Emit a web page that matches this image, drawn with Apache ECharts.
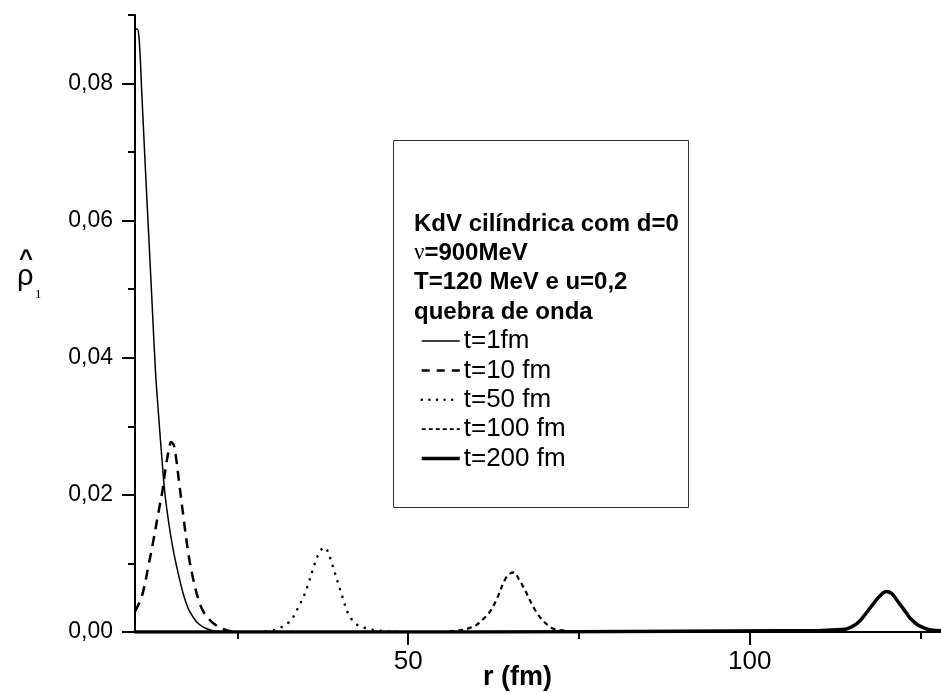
<!DOCTYPE html>
<html>
<head>
<meta charset="utf-8">
<script src="https://cdn.jsdelivr.net/npm/echarts@6/dist/echarts.min.js"></script>
<style>html,body{margin:0;padding:0;background:#fff;}#c{width:941px;height:693px;}</style>
</head>
<body>
<div id="c"></div>
<script>
// ---- data: [r (fm), rho1] ----
const t1 = [[10,0.0878],[10.3,0.0880],[10.6,0.0866],[11,0.0785],[11.5,0.068],[12,0.058],[12.5,0.048],[13,0.038],[13.5,0.031],[14,0.0245],[14.4,0.020],[15,0.0155],[15.5,0.0125],[16,0.0100],[16.5,0.0078],[17,0.0058],[17.5,0.0042],[18,0.0030],[19,0.0015],[20,0.0007],[21,0.0003],[22,0.0001],[24,0],[40,0],[128,0]];
const t10 = [[10,0.0030],[11,0.0052],[12,0.0098],[12.7,0.0134],[13.5,0.0178],[14,0.0205],[14.5,0.0240],[15,0.0268],[15.3,0.0277],[15.7,0.0272],[16,0.0255],[16.5,0.0215],[17,0.0175],[17.8,0.0115],[18.5,0.0078],[19.3,0.0047],[20,0.0030],[21,0.0017],[22,0.0009],[23,0.0004],[24,0.0001],[25,0]];
const t50 = [[28,0],[30,0.0002],[31,0.0005],[32,0.0010],[32.6,0.0015],[33.3,0.0024],[33.8,0.0034],[34.7,0.0052],[35.3,0.0068],[36,0.0090],[36.8,0.0112],[37.7,0.01235],[38.2,0.0118],[38.7,0.0104],[39.3,0.0085],[39.9,0.0066],[40.5,0.0047],[41.2,0.0027],[42,0.0015],[42.8,0.0009],[44,0.0005],[45,0.0003],[47,0.0001],[50,0]];
const t100 = [[56,0.0001],[58,0.0003],[59,0.0006],[59.8,0.0009],[60.8,0.0017],[62,0.0030],[63,0.0049],[64.2,0.0077],[65,0.0086],[65.5,0.0087],[66.2,0.0077],[67.1,0.0061],[68.4,0.0035],[69.6,0.0018],[71,0.0006],[72,0.0003],[74,0.0001],[76,0]];
const t200 = [[10,0],[30,0],[60,0],[90,0.0001],[105,0.0002],[110,0.0002],[112,0.0003],[114,0.0004],[115,0.0008],[116,0.0015],[117,0.0027],[118,0.0040],[119,0.0052],[120,0.0059],[120.8,0.0056],[121.5,0.0047],[122.1,0.0039],[123,0.0027],[123.5,0.0020],[124.5,0.0011],[125.5,0.0006],[126.5,0.0003],[128,0.0002]];

const seriesNames = ['t=1fm','t=10 fm','t=50 fm','t=100 fm','t=200 fm'];
const xMajorTicks = [50, 100];
const xMinorTicks = [25, 75, 125];
const yMajorTicks = [0, 0.02, 0.04, 0.06, 0.08];
const yMinorTicks = [0.01, 0.03, 0.05, 0.07, 0.09];
const headerLines = ['KdV cilíndrica com d=0', '=900MeV', 'T=120 MeV e u=0,2', 'quebra de onda'];

const FONT = 'Liberation Sans, Arial, sans-serif';

const styles = [
  {width:1.5, type:'solid', cap:'butt'},
  {width:2.5, type:[10,7], cap:'butt'},
  {width:2.6, type:[0.1,8], cap:'round'},
  {width:2.2, type:[5,4], cap:'butt'},
  {width:3.5, type:'solid', cap:'round'}
];
const legendStyles = [
  {width:1.5, type:'solid', cap:'butt'},
  {width:2.5, type:[8,7], cap:'butt'},
  {width:2.4, type:[0.1,7.5], cap:'round'},
  {width:1.8, type:[4,3], cap:'butt'},
  {width:3.5, type:'solid', cap:'butt'}
];
const datasets = [t1, t10, t50, t100, t200];

const chart = echarts.init(document.getElementById('c'), null, {renderer:'canvas'});
const commaFmt = v => v.toFixed(2).replace('.', ',');

const step = 29.4;
const headerY = 224;
const HFONT = 'bold 24px ' + FONT;

const graphics = [
  {type:'rect', shape:{x:393.5, y:140.5, width:295, height:367}, style:{fill:'none', stroke:'#333', lineWidth:1}, z:10},
  {type:'text', x:414, y:headerY, style:{text:headerLines[0], font:HFONT, fill:'#000', verticalAlign:'middle'}, z:11},
  {type:'text', x:414, y:headerY + step, style:{text:'{s|ν}{b|' + headerLines[1] + '}', verticalAlign:'middle', rich:{s:{font:'23px Liberation Serif, serif', fill:'#000'}, b:{font:HFONT, fill:'#000'}}}, z:11},
  {type:'text', x:414, y:headerY + 2*step, style:{text:headerLines[2], font:HFONT, fill:'#000', verticalAlign:'middle'}, z:11},
  {type:'text', x:414, y:headerY + 3*step, style:{text:headerLines[3], font:HFONT, fill:'#000', verticalAlign:'middle'}, z:11},
  // y-axis name: rho-hat sub 1
  {type:'text', x:19, y:247, style:{text:'^', font:'bold 24px ' + FONT, fill:'#000'}},
  {type:'text', x:17, y:262, style:{text:'ρ', font:'29px ' + FONT, fill:'#000'}},
  {type:'text', x:35, y:288, style:{text:'1', font:'13px Liberation Serif, serif', fill:'#000'}},
  // x-axis name
  {type:'text', x:483, y:664, style:{text:'r (fm)', font:'bold 27px ' + FONT, fill:'#000'}}
];

const option = {
  animation:false,
  backgroundColor:'#fff',
  grid:{left:135, right:0, top:15, bottom:61, containLabel:false},
  legend:{
    orient:'vertical', left:420, top:328, itemWidth:38, itemHeight:14, itemGap:3.4, padding:0,
    textStyle:{fontSize:26, fontFamily:FONT, color:'#000', padding:[0,0,0,-1]},
    data: seriesNames.map((n,i) => ({
      name:n,
      lineStyle:{color:'#000', width:legendStyles[i].width, type:legendStyles[i].type, cap:legendStyles[i].cap},
      itemStyle:{color:'rgba(0,0,0,0)', borderWidth:0, opacity:0}
    })),
    selectedMode:false
  },
  xAxis:[
    {type:'value', min:10, max:128, position:'bottom',
     axisLine:{show:true, lineStyle:{color:'#000', width:2}},
     axisTick:{show:true, customValues:xMajorTicks, length:13, lineStyle:{color:'#000', width:2}},
     axisLabel:{customValues:xMajorTicks, fontSize:26, fontFamily:FONT, color:'#000', margin:17},
     splitLine:{show:false}},
    {type:'value', min:10, max:128, position:'bottom',
     axisLine:{show:false},
     axisTick:{show:true, customValues:xMinorTicks, length:7, lineStyle:{color:'#000', width:2}},
     axisLabel:{show:false}, splitLine:{show:false}}
  ],
  yAxis:[
    {type:'value', min:0, max:0.09, position:'left',
     axisLine:{show:true, lineStyle:{color:'#000', width:2}},
     axisTick:{show:true, customValues:yMajorTicks, length:13, lineStyle:{color:'#000', width:2}},
     axisLabel:{customValues:yMajorTicks, formatter:commaFmt, fontSize:23, fontFamily:FONT, color:'#000', margin:22},
     splitLine:{show:false}},
    {type:'value', min:0, max:0.09, position:'left',
     axisLine:{show:false},
     axisTick:{show:true, customValues:yMinorTicks, length:7, lineStyle:{color:'#000', width:2}},
     axisLabel:{show:false}, splitLine:{show:false}}
  ],
  series: datasets.map((d,i) => ({
    name:seriesNames[i], type:'line', data:d, xAxisIndex:0, yAxisIndex:0,
    showSymbol:false, symbol:'none', smooth:0.35, clip:true,
    lineStyle:{color:'#000', width:styles[i].width, type:styles[i].type, cap:styles[i].cap, join:'round'},
    itemStyle:{color:'#000'}, z:3
  })),
  graphic:graphics
};
chart.setOption(option);
</script>
</body>
</html>
